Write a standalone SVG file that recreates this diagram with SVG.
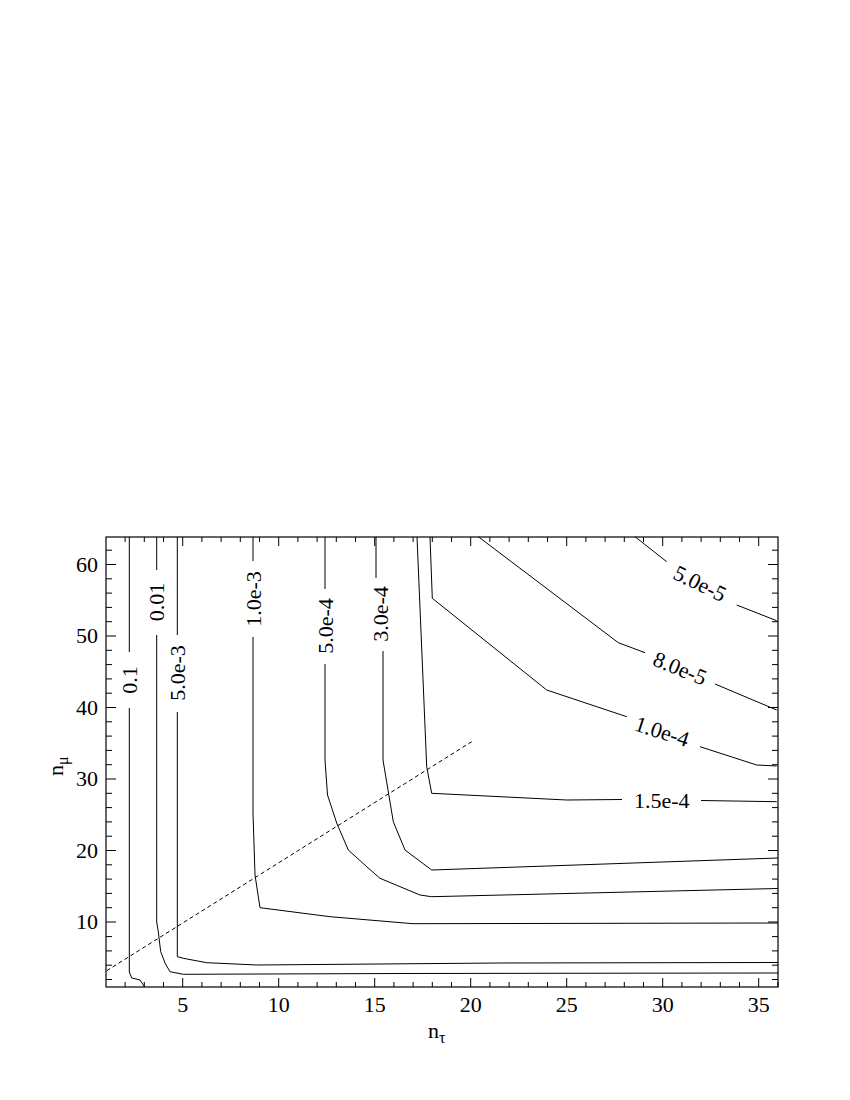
<svg xmlns="http://www.w3.org/2000/svg" width="850" height="1100" viewBox="0 0 850 1100">
<style>
.c{fill:none;stroke:#000;stroke-width:1}
</style>
<rect width="850" height="1100" fill="#fff"/>
<g id="frame">
<rect x="106" y="537" width="672" height="450" fill="none" stroke="#000" stroke-width="1.2"/>
<path class="c" d="M125.1,987v-5M144.3,987v-5M163.5,987v-5M182.7,987v-9M201.9,987v-5M221.1,987v-5M240.3,987v-5M259.5,987v-5M278.7,987v-9M297.9,987v-5M317.1,987v-5M336.3,987v-5M355.5,987v-5M374.7,987v-9M393.9,987v-5M413.1,987v-5M432.3,987v-5M451.5,987v-5M470.7,987v-9M489.9,987v-5M509.1,987v-5M528.3,987v-5M547.5,987v-5M566.7,987v-9M585.9,987v-5M605.1,987v-5M624.3,987v-5M643.5,987v-5M662.7,987v-9M681.9,987v-5M701.1,987v-5M720.3,987v-5M739.5,987v-5M758.7,987v-9M777.9,987v-5"/>
<path class="c" d="M125.1,537v5M144.3,537v5M163.5,537v5M182.7,537v9M201.9,537v5M221.1,537v5M240.3,537v5M259.5,537v5M278.7,537v9M297.9,537v5M317.1,537v5M336.3,537v5M355.5,537v5M374.7,537v9M393.9,537v5M413.1,537v5M432.3,537v5M451.5,537v5M470.7,537v9M489.9,537v5M509.1,537v5M528.3,537v5M547.5,537v5M566.7,537v9M585.9,537v5M605.1,537v5M624.3,537v5M643.5,537v5M662.7,537v9M681.9,537v5M701.1,537v5M720.3,537v5M739.5,537v5M758.7,537v9"/>
<path class="c" d="M106,979.5h6M106,965.2h6M106,950.9h6M106,936.6h6M106,922h10M106,907.7h6M106,893.4h6M106,879.1h6M106,864.8h6M106,850.5h10M106,836.2h6M106,821.9h6M106,807.6h6M106,793.3h6M106,779h10M106,764.7h6M106,750.4h6M106,736.1h6M106,721.8h6M106,707.5h10M106,693.2h6M106,678.9h6M106,664.6h6M106,650.3h6M106,636h10M106,621.7h6M106,607.4h6M106,593.1h6M106,578.8h6M106,564.5h10M106,550.2h6"/>
<path class="c" d="M778,979.5h-6M778,965.2h-6M778,950.9h-6M778,936.6h-6M778,922h-10M778,907.7h-6M778,893.4h-6M778,879.1h-6M778,864.8h-6M778,850.5h-10M778,836.2h-6M778,821.9h-6M778,807.6h-6M778,793.3h-6M778,779h-10M778,764.7h-6M778,750.4h-6M778,736.1h-6M778,721.8h-6M778,707.5h-10M778,693.2h-6M778,678.9h-6M778,664.6h-6M778,650.3h-6M778,636h-10M778,621.7h-6M778,607.4h-6M778,593.1h-6M778,578.8h-6M778,564.5h-10M778,550.2h-6"/>
</g>
<g id="ticklabels" font-family="Liberation Serif, serif" font-size="22" fill="#000">
<text x="182.7" y="1012" text-anchor="middle">5</text>
<text x="278.7" y="1012" text-anchor="middle">10</text>
<text x="374.7" y="1012" text-anchor="middle">15</text>
<text x="470.7" y="1012" text-anchor="middle">20</text>
<text x="566.7" y="1012" text-anchor="middle">25</text>
<text x="662.7" y="1012" text-anchor="middle">30</text>
<text x="758.7" y="1012" text-anchor="middle">35</text>
<text x="98" y="929" text-anchor="end">10</text>
<text x="98" y="857.5" text-anchor="end">20</text>
<text x="98" y="786" text-anchor="end">30</text>
<text x="98" y="714.5" text-anchor="end">40</text>
<text x="98" y="643" text-anchor="end">50</text>
<text x="98" y="571.5" text-anchor="end">60</text>
</g>
<g id="axis-labels" font-family="Liberation Serif, serif" font-size="22" fill="#000">
<text x="428" y="1038">n<tspan font-size="16" dy="5">τ</tspan></text>
<text transform="translate(63,776) rotate(-90)">n<tspan font-size="16" dy="5">μ</tspan></text>
</g>
<g id="connectors">
<path class="c" stroke-dasharray="4,3" d="M106.7,970.7L471.7,741.7"/>
<path class="c" d="M129.3,537V652M129.3,708V972L131.7,978L140,980L144.3,986.5"/>
<path class="c" d="M156.7,537V570M156.7,635V922L158.3,931.7L160.7,951.7L165,963L170,971.7L183.3,974.3L400,973.5L778,973"/>
<path class="c" d="M177.3,537V635M177.3,712V956.7L183.3,958.3L206.7,962.7L256.7,965L500,963L778,962.5"/>
<path class="c" d="M253,537V561M253,637V813L255,875L260,907.7L330,916.7L413,923.7L778,923"/>
<path class="c" d="M325,537V589M325,664V760L327.5,795L336.7,823L348.3,850L366.7,866.7L380,878.3L420,895L431.7,896.7L778,888.5"/>
<path class="c" d="M376,537V578M383,651V760L393.3,821.7L405,850L431.7,870L778,858"/>
<path class="c" d="M417,537L426.7,766.7L431.7,793.3L566.7,800L622,799.5M701,800.5L776.7,801.7"/>
<path class="c" d="M430,537L432.3,598.3L546.7,690L626.7,716.7M700,746.7L756.7,765L776.7,766"/>
<path class="c" d="M478.3,536.7L618.3,642.7L645,652.7M715,684L776.7,710"/>
<path class="c" d="M635,536.7L666.7,561.7M736.7,605L776.7,620.7"/>
</g>
<g id="contour-labels" font-family="Liberation Serif, serif" font-size="22" fill="#000" text-anchor="middle" dominant-baseline="central">
<text transform="translate(129.3,680) rotate(-90)">0.1</text>
<text transform="translate(156.7,602) rotate(-90)">0.01</text>
<text transform="translate(177.3,673) rotate(-90)">5.0e-3</text>
<text transform="translate(253,599) rotate(-90)">1.0e-3</text>
<text transform="translate(325,626) rotate(-90)">5.0e-4</text>
<text transform="translate(380,614) rotate(-90)">3.0e-4</text>
<text x="661.7" y="800">1.5e-4</text>
<text transform="translate(662,731.5) rotate(18)">1.0e-4</text>
<text transform="translate(680,668.3) rotate(22)">8.0e-5</text>
<text transform="translate(700,583.5) rotate(26)">5.0e-5</text>
</g>
</svg>
